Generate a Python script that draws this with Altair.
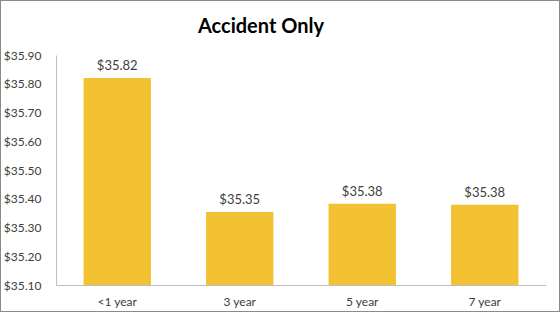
import altair as alt
import pandas as pd

categories = ["<1 year", "3 year", "5 year", "7 year"]
values = [35.82, 35.354, 35.383, 35.379]
labels = ["$35.82", "$35.35", "$35.38", "$35.38"]
tick_values = [35.1, 35.2, 35.3, 35.4, 35.5, 35.6, 35.7, 35.8, 35.9]
title_text = ["Accident Only"]

df = pd.DataFrame({"cat": categories, "val": values, "lab": labels})
tdf = pd.DataFrame({"t": title_text})

FONT = "Lato"
W, H = 490, 230

x = alt.X("cat:N", sort=categories, title=None,
          scale=alt.Scale(paddingInner=0.45, paddingOuter=0.225),
          axis=alt.Axis(labelAngle=0, ticks=False, domainColor="#bfbfbf",
                        labelFont=FONT, labelFontSize=12, labelColor="#404040",
                        labelPadding=11))
y = alt.Y("val:Q", title=None,
          scale=alt.Scale(domain=[35.10, 35.90], zero=False, nice=False, clamp=True),
          axis=alt.Axis(values=tick_values,
                        format="$.2f", grid=False, ticks=False, domainColor="#bfbfbf",
                        labelFont=FONT, labelFontSize=12, labelColor="#404040",
                        labelPadding=15, labelOverlap=False, labelFlush=False))

bars = alt.Chart(df).mark_bar(color="#F2C232").encode(x=x, y=y)
text = alt.Chart(df).mark_text(dy=-12, font=FONT, fontSize=13, color="#404040").encode(
    x=x, y=y, text="lab:N")
border = alt.Chart(df).mark_rect(fill=None, stroke="#8a8a8a", strokeWidth=1, clip=False).encode(
    x=alt.value(-55.5), x2=alt.value(503.5), y=alt.value(-54.5), y2=alt.value(26.5 + H))
title = alt.Chart(tdf).mark_text(font=FONT, fontSize=20, fontWeight="bold", color="#000000",
                                 baseline="alphabetic", align="center").encode(
    x=alt.value(205), y=alt.value(-22), text="t:N")

chart = alt.layer(bars, text, border, title).properties(
    width=W, height=H,
    autosize=alt.AutoSizeParams(type="none"),
    padding={"left": 56, "top": 55, "right": 14, "bottom": 27},
).configure_view(stroke=None).configure_axis(labelOverlap=False)

chart.save("out.html", embed_options={"renderer": "svg", "actions": False})
